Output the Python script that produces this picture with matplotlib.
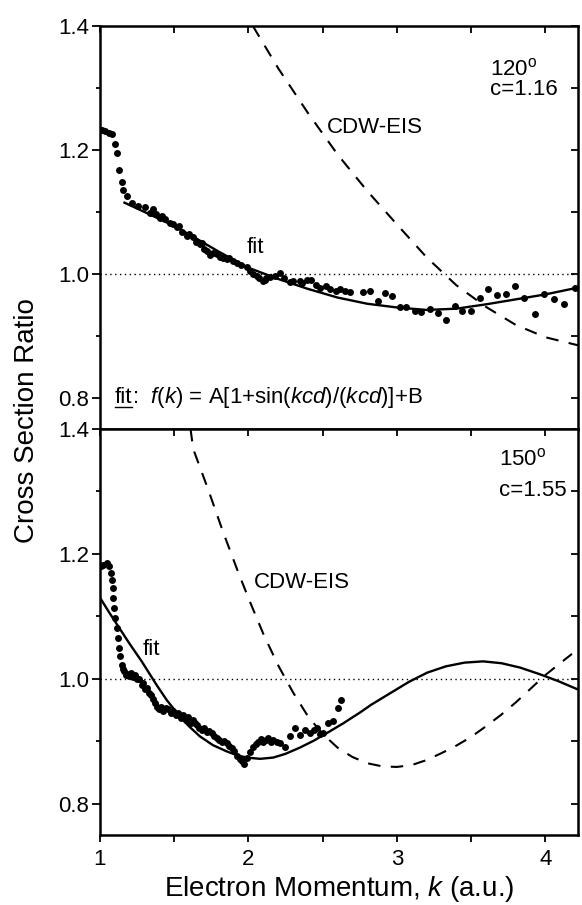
import numpy as np
import matplotlib.pyplot as plt
from matplotlib.ticker import MultipleLocator
from matplotlib.lines import Line2D

plt.rcParams['font.family'] = ['Liberation Sans', 'DejaVu Sans']
plt.rcParams['mathtext.fontset'] = 'custom'
plt.rcParams['mathtext.rm'] = 'Liberation Sans'
plt.rcParams['mathtext.it'] = 'Liberation Sans:italic'

# ---- 120 deg panel: measured ratio (dots) ----
top_k = [1.011, 1.035, 1.059, 1.079, 1.101, 1.117, 1.130, 1.146, 1.157, 1.180, 1.213,
         1.258, 1.303, 1.337, 1.36, 1.38, 1.404, 1.42, 1.44, 1.471, 1.49, 1.516, 1.53,
         1.55, 1.584, 1.60, 1.628, 1.65, 1.673, 1.69, 1.70, 1.718, 1.74, 1.76, 1.785,
         1.81, 1.83, 1.853, 1.87, 1.896, 1.92, 1.95, 1.988, 2.01, 2.03, 2.056, 2.07,
         2.098, 2.11, 2.12, 2.145, 2.18, 2.212, 2.24, 2.279, 2.30, 2.347, 2.36, 2.392,
         2.42, 2.458, 2.48, 2.526, 2.55, 2.593, 2.62, 2.65, 2.684, 2.773, 2.818, 2.874,
         2.919, 2.964, 3.020, 3.065, 3.121, 3.166, 3.222, 3.278, 3.330, 3.391, 3.442,
         3.498, 3.559, 3.615, 3.675, 3.734, 3.795, 3.86, 3.93, 3.99, 4.057, 4.125, 4.20]
top_ratio = [1.232, 1.231, 1.228, 1.226, 1.210, 1.195, 1.168, 1.149, 1.136, 1.125, 1.115,
             1.109, 1.108, 1.099, 1.104, 1.096, 1.091, 1.094, 1.088, 1.083, 1.080, 1.075, 1.078,
             1.068, 1.061, 1.064, 1.059, 1.052, 1.048, 1.050, 1.040, 1.037, 1.030, 1.034, 1.032,
             1.028, 1.025, 1.024, 1.026, 1.021, 1.018, 1.014, 1.011, 1.005, 1.000, 0.997, 0.994,
             0.989, 0.990, 0.993, 0.995, 0.997, 1.001, 0.993, 0.987, 0.988, 0.989, 0.985, 0.991,
             0.990, 0.983, 0.978, 0.981, 0.976, 0.973, 0.975, 0.972, 0.971, 0.971, 0.973, 0.957,
             0.969, 0.965, 0.947, 0.946, 0.941, 0.939, 0.944, 0.937, 0.925, 0.948, 0.940,
             0.941, 0.961, 0.976, 0.966, 0.968, 0.981, 0.962, 0.936, 0.968, 0.960, 0.952, 0.978]

top_fit_k = [1.165, 1.3, 1.45, 1.6, 1.8, 2.0, 2.2, 2.4, 2.6, 2.8, 3.0, 3.2, 3.4, 3.6, 3.8, 4.0, 4.22]
top_fit = [1.115, 1.100, 1.083, 1.064, 1.036, 1.010, 0.992, 0.976, 0.962, 0.952, 0.946,
           0.942, 0.944, 0.951, 0.959, 0.967, 0.978]

top_cdw_k = [2.03, 2.2, 2.4, 2.6, 2.8, 3.0, 3.2, 3.4, 3.6, 3.8, 4.0, 4.22]
top_cdw = [1.400, 1.332, 1.260, 1.193, 1.134, 1.080, 1.027, 0.982, 0.947, 0.918, 0.898, 0.885]

# ---- 150 deg panel ----
bot_k = [1.005, 1.022, 1.045, 1.063, 1.072, 1.079, 1.085, 1.090, 1.096, 1.103, 1.112,
         1.119, 1.126, 1.135, 1.146, 1.155, 1.162, 1.172, 1.180, 1.195, 1.207, 1.222, 1.236,
         1.25, 1.265, 1.28, 1.292, 1.305, 1.319, 1.33, 1.341, 1.355, 1.370, 1.385, 1.399,
         1.413, 1.426, 1.443, 1.460, 1.477, 1.494, 1.51, 1.527, 1.545, 1.561, 1.578, 1.595,
         1.61, 1.628, 1.64, 1.651, 1.668, 1.685, 1.70, 1.718, 1.735, 1.752, 1.77, 1.786,
         1.80, 1.819, 1.835, 1.853, 1.87, 1.887, 1.905, 1.921, 1.94, 1.955, 1.97, 1.988,
         2.010, 2.032, 2.05, 2.066, 2.083, 2.100, 2.117, 2.133, 2.15, 2.167, 2.19, 2.212,
         2.246, 2.279, 2.313, 2.347, 2.380, 2.414, 2.44, 2.459, 2.48, 2.504, 2.537, 2.571,
         2.605, 2.627]
bot_ratio = [1.180, 1.183, 1.186, 1.181, 1.170, 1.159, 1.146, 1.130, 1.113, 1.097, 1.081,
             1.065, 1.049, 1.036, 1.022, 1.016, 1.012, 1.006, 1.008, 1.004, 1.010, 1.003, 1.006,
             0.999, 1.000, 0.990, 0.993, 0.983, 0.985, 0.978, 0.974, 0.968, 0.961, 0.955, 0.951,
             0.955, 0.948, 0.954, 0.951, 0.945, 0.948, 0.942, 0.945, 0.938, 0.942, 0.934, 0.939,
             0.930, 0.934, 0.930, 0.926, 0.922, 0.918, 0.921, 0.915, 0.917, 0.913, 0.909, 0.905,
             0.902, 0.899, 0.901, 0.897, 0.893, 0.889, 0.884, 0.876, 0.872, 0.868, 0.864, 0.873,
             0.883, 0.891, 0.896, 0.899, 0.903, 0.899, 0.902, 0.905, 0.899, 0.902, 0.899, 0.897,
             0.891, 0.908, 0.921, 0.910, 0.918, 0.913, 0.918, 0.921, 0.911, 0.913, 0.929, 0.932,
             0.953, 0.966]

bot_fit_k = [1.0, 1.06, 1.123, 1.2, 1.281, 1.382, 1.45, 1.53, 1.6, 1.673, 1.76, 1.853, 1.92,
             1.988, 2.08, 2.167, 2.25, 2.347, 2.44, 2.527, 2.64, 2.751, 2.83, 2.955, 3.08,
             3.205, 3.33, 3.456, 3.581, 3.706, 3.831, 3.956, 4.081, 4.22]
bot_fit = [1.130, 1.107, 1.084, 1.056, 1.028, 0.990, 0.966, 0.942, 0.924, 0.908, 0.894, 0.884,
           0.878, 0.874, 0.872, 0.874, 0.880, 0.890, 0.901, 0.913, 0.929, 0.946, 0.959,
           0.977, 0.995, 1.010, 1.020, 1.026, 1.028, 1.025, 1.018, 1.008, 0.997, 0.983]

bot_cdw_k = [1.61, 1.628, 1.729, 1.828, 1.929, 2.004, 2.104, 2.204, 2.304, 2.404, 2.5,
             2.6, 2.7, 2.8, 2.9, 3.0, 3.1, 3.2, 3.3, 3.4, 3.5, 3.6, 3.7, 3.8, 3.9, 4.0,
             4.1, 4.18]
bot_cdw = [1.40, 1.368, 1.303, 1.236, 1.172, 1.127, 1.070, 1.020, 0.977, 0.939, 0.912,
           0.890, 0.875, 0.865, 0.860, 0.859, 0.862, 0.870, 0.881, 0.893, 0.907, 0.924,
           0.942, 0.962, 0.984, 1.006, 1.025, 1.040]

fig = plt.figure(figsize=(5.82, 9.05), dpi=100)
ax1 = fig.add_axes([0.1718, 0.526, 0.8212, 0.4453])
ax2 = fig.add_axes([0.1718, 0.0773, 0.8212, 0.4487], sharex=ax1)

panels = [
    (ax1, top_k, top_ratio, top_fit_k, top_fit, top_cdw_k, top_cdw),
    (ax2, bot_k, bot_ratio, bot_fit_k, bot_fit, bot_cdw_k, bot_cdw),
]
for ax, k, r, fk, fv, ck, cv in panels:
    ax.axhline(1.0, color='black', lw=1.0, ls=(0, (1, 2.5)), zorder=1)
    ax.plot(ck, cv, color='black', lw=1.5, dashes=(6, 5), zorder=2)
    ax.plot(fk, fv, color='black', lw=1.7, zorder=3, solid_joinstyle='round')
    ax.plot(k, r, 'o', color='black', ms=5, mec='none', zorder=4)
    ax.set_xlim(1, 4.22)
    ax.set_ylim(0.75, 1.4)
    ax.set_yticks([0.8, 1.0, 1.2, 1.4])
    ax.yaxis.set_minor_locator(MultipleLocator(0.1))
    ax.xaxis.set_major_locator(MultipleLocator(1))
    ax.xaxis.set_minor_locator(MultipleLocator(0.5))
    ax.tick_params(axis='y', which='both', left=True, right=False, direction='out',
                   labelsize=16, width=1.3, pad=2)
    ax.tick_params(axis='y', which='major', length=6)
    ax.tick_params(axis='y', which='minor', length=3)
    ax.tick_params(axis='x', which='both', bottom=True, top=False, direction='out',
                   labelsize=16, width=1.3, pad=5, length=5)
    sec_x = ax.secondary_xaxis('top')
    sec_x.xaxis.set_major_locator(MultipleLocator(1))
    sec_x.xaxis.set_minor_locator(MultipleLocator(0.5))
    sec_x.tick_params(which='both', direction='in', length=5, width=1.3, labeltop=False)
    sec_x.spines['top'].set_visible(False)
    sec_y = ax.secondary_yaxis('right')
    sec_y.yaxis.set_minor_locator(MultipleLocator(0.1))
    sec_y.set_yticks([0.8, 1.0, 1.2, 1.4])
    sec_y.tick_params(which='both', direction='in', length=5, width=1.3, labelright=False)
    sec_y.spines['right'].set_visible(False)
    for s in ax.spines.values():
        s.set_linewidth(1.8)

ax1.tick_params(axis='x', labelbottom=False)

ax1.text(3.63, 1.330, r'120$^\mathrm{o}$', fontsize=16, va='center')
ax1.text(3.63, 1.297, 'c=1.16', fontsize=16, va='center')
ax1.text(2.53, 1.237, 'CDW-EIS', fontsize=16, va='center')
ax1.text(1.99, 1.043, 'fit', fontsize=16, va='center')

ax2.text(3.69, 1.351, r'150$^\mathrm{o}$', fontsize=16, va='center')
ax2.text(3.69, 1.301, 'c=1.55', fontsize=16, va='center')
ax2.text(2.04, 1.154, 'CDW-EIS', fontsize=16, va='center')
ax2.text(1.29, 1.047, 'fit', fontsize=16, va='center')

# formula with underlined "fit"
t_fit = ax1.text(1.10, 0.80, 'fit', fontsize=16, va='center')
ax1.annotate(r':  $f(k)$ = A[1+sin($kcd$)/($kcd$)]+B', xy=(1, 0.5), xycoords=t_fit,
             fontsize=16, va='center', ha='left')
fig.canvas.draw()
bb = t_fit.get_window_extent()
fig.add_artist(Line2D([bb.x0 / fig.bbox.width, bb.x1 / fig.bbox.width],
                      [(bb.y0 + 1) / fig.bbox.height] * 2,
                      transform=fig.transFigure, color='black', lw=1.0))

ax2.set_xlabel(r'Electron Momentum, $k$ (a.u.)', fontsize=20, labelpad=3)
fig.text(0.046, 0.535, 'Cross Section Ratio', rotation=90, fontsize=20,
         ha='center', va='center')

fig.savefig('out.png', dpi=100)
